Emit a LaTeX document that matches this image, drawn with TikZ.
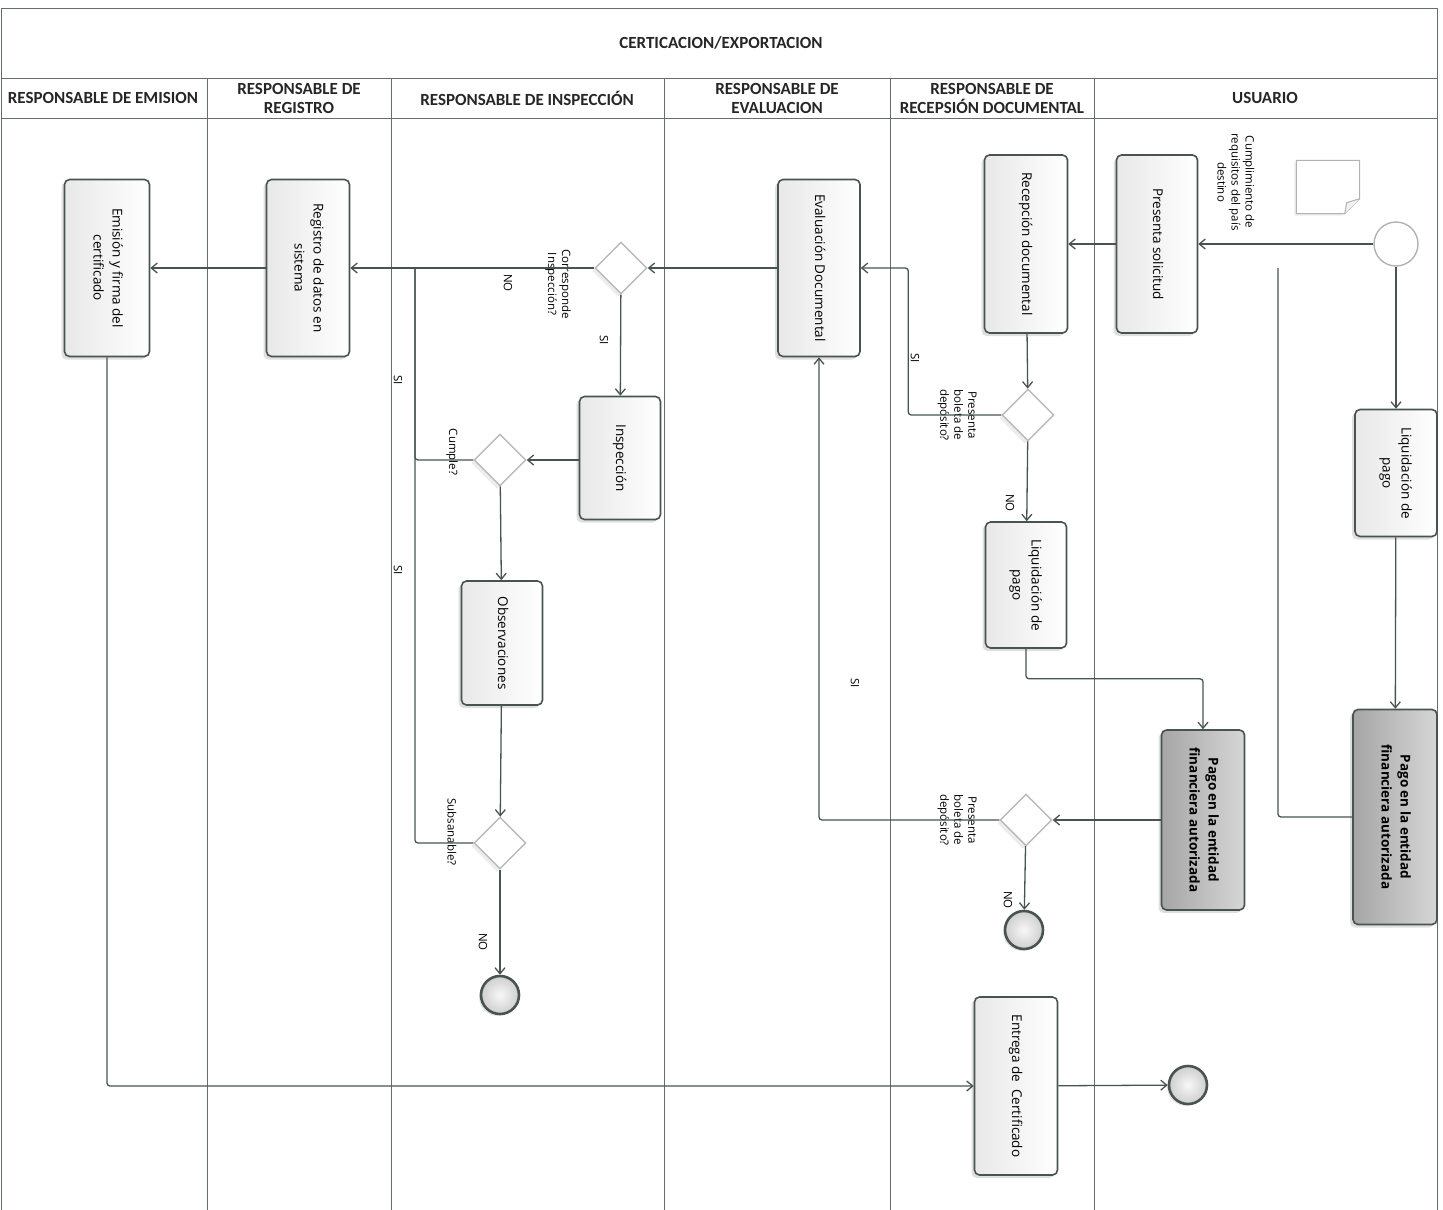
\documentclass[tikz,border=0pt]{standalone}
\usepackage{graphicx}
\usepackage{fontspec}
\setmainfont{Open Sans}
\newfontfamily\hdfont{Carlito}
\usetikzlibrary{shapes.geometric,shadows,arrows.meta,calc,positioning}

\definecolor{lnc}{RGB}{72,84,80}
\definecolor{lanec}{RGB}{100,110,107}

\newcommand{\vtxt}[1]{\rotatebox{-90}{\begin{tabular}{@{}c@{}}#1\end{tabular}}}

\tikzset{
	lane/.style={draw=lanec, line width=0.9pt},
	hd/.style={font=\hdfont\bfseries\fontsize{17}{19}\selectfont, align=center, text=black!85},
	task/.style={draw=lnc, line width=1.6pt, rounded corners=5pt, left color=gray!18, right color=white,
		drop shadow={opacity=0.25, shadow xshift=-3pt, shadow yshift=-3pt},
		inner sep=0pt, font=\fontsize{13.5}{19}\selectfont},
	paytask/.style={task, left color=gray!70, right color=gray!32, font=\fontsize{13.5}{19}\selectfont\bfseries},
	gate/.style={diamond, draw=gray!55, line width=1.4pt, fill=white, minimum width=52pt, minimum height=52pt,
		inner sep=0pt, drop shadow={opacity=0.15, shadow xshift=-3pt, shadow yshift=-3pt}},
	startev/.style={circle, draw=gray!60, line width=1.4pt, fill=white, minimum size=44pt, inner sep=0pt},
	endev/.style={circle, draw=lnc, line width=2.6pt, inner color=gray!6, outer color=gray!38, minimum size=38pt,
		inner sep=0pt, drop shadow={opacity=0.2, shadow xshift=-2pt, shadow yshift=-2pt}},
	flow/.style={draw=lnc, line width=1.3pt, -{Straight Barb[length=6pt,width=10pt]}},
	link/.style={draw=lnc, line width=1.3pt},
	lbl/.style={font=\fontsize{11.5}{14}\selectfont, align=center, rotate=-90, inner sep=1pt},
}

\begin{document}
\begin{tikzpicture}[x=1pt, y=-1pt]

	\useasboundingbox (0,0) rectangle (1443,1210);

	% lanes
	\draw[lane] (1,1210) -- (1,8) -- (1437,8) -- (1437,1210);
	\draw[lane] (1,78) -- (1437,78);
	\draw[lane] (1,118) -- (1437,118);
	\foreach \x in {207,391,664,890,1094}
	{
		\draw[lane] (\x,78) -- (\x,1210);
	};

	\node[hd] (title) at (721,43) {CERTICACION/EXPORTACION};
	\foreach \x/\t [count=\i] in {
	103/{RESPONSABLE DE EMISION},
	299/{RESPONSABLE DE\\REGISTRO},
	527/{RESPONSABLE DE INSPECCIÓN},
	777/{RESPONSABLE DE\\EVALUACION},
	992/{RESPONSABLE DE\\RECEPSIÓN DOCUMENTAL},
	1265/{USUARIO}}
	{
		\node[hd] (h\i) at (\x,98) {\t};
	};

	% tasks
	\node[task, minimum width=85pt, minimum height=177pt] (emi) at (107,268) {\vtxt{Emisión y firma del\\certificado}};
	\node[task, minimum width=83pt, minimum height=177pt] (reg) at (308,268) {\vtxt{Registro de datos en\\sistema}};
	\node[task, minimum width=82pt, minimum height=177pt] (eva) at (819,268) {\vtxt{Evaluación Documental}};
	\node[task, minimum width=83pt, minimum height=178pt] (rec) at (1026,244) {\vtxt{Recepción documental}};
	\node[task, minimum width=81pt, minimum height=178pt] (sol) at (1157,244) {\vtxt{Presenta solicitud}};
	\node[task, minimum width=81pt, minimum height=123pt] (insp) at (620,458) {\vtxt{Inspección}};
	\node[task, minimum width=81pt, minimum height=124pt] (obs) at (502,643) {\vtxt{Observaciones}};
	\node[task, minimum width=81pt, minimum height=126pt] (liq1) at (1026,585) {\vtxt{Liquidación de\\pago}};
	\node[task, minimum width=82pt, minimum height=127pt] (liq2) at (1396,473) {\vtxt{Liquidación de\\pago}};
	\node[paytask, minimum width=83pt, minimum height=180pt] (pag1) at (1203,820) {\vtxt{Pago en la entidad\\financiera autorizada}};
	\node[paytask, minimum width=84pt, minimum height=215pt] (pag2) at (1395,817) {\vtxt{Pago en la entidad\\financiera autorizada}};
	\node[task, minimum width=83pt, minimum height=178pt] (ent) at (1016,1086) {\vtxt{Entrega de \ Certificado}};

	% gateways and events
	\node[gate] (gcor) at (621,268) {};
	\node[gate] (gbo1) at (1028,415) {};
	\node[gate] (gcum) at (500,460) {};
	\node[gate] (gsub) at (500,843) {};
	\node[gate] (gbo2) at (1026,820) {};

	\node[startev] (ini) at (1396,244) {};
	\node[endev] (fin1) at (500,995) {};
	\node[endev] (fin2) at (1024,930) {};
	\node[endev] (fin3) at (1188,1085) {};

	% data object
	\node[minimum width=63pt, minimum height=53pt, inner sep=0pt] (doc) at (1328,187) {};
	\draw[draw=gray!60, line width=1pt, fill=white, drop shadow={opacity=0.15, shadow xshift=-2pt, shadow yshift=-2pt}]
		(doc.north west) -- (doc.north east) -- ($(doc.south east)+(0,-15)$) -- ($(doc.south east)+(-15,0)$) -- (doc.south west) -- cycle;
	\draw[draw=gray!60, line width=1pt, fill=gray!10]
		($(doc.south east)+(0,-15)$) -- ($(doc.south east)+(-13,-11)$) -- ($(doc.south east)+(-15,0)$);

	\coordinate (asoc) at (1278,268);
	\coordinate (join) at (415,268);

	% labels
	\node[lbl] (tdoc) at (1236,182) {Cumplimiento de\\requisitos del país\\destino};
	\node[lbl] (tcor) at (558,284) {Corresponde\\Inspección?};
	\node[lbl] (tcum) at (452,452) {Cumple?};
	\node[lbl] (tsub) at (452,832) {Subsanable?};
	\node[lbl] (tbo1) at (957,415) {Presenta\\boleta de\\depósito?};
	\node[lbl] (tbo2) at (957,820) {Presenta\\boleta de\\depósito?};
	\node[lbl] (no1) at (508,283) {NO};
	\node[lbl] (si1) at (604,340) {SI};
	\node[lbl] (si2) at (398,380) {SI};
	\node[lbl] (si3) at (398,570) {SI};
	\node[lbl] (no2) at (483,942) {NO};
	\node[lbl] (si4) at (915,358) {SI};
	\node[lbl] (no3) at (1010,503) {NO};
	\node[lbl] (si5) at (855,683) {SI};
	\node[lbl] (no4) at (1008,900) {NO};

	% flows
	\draw[flow] (ini) -- (sol);
	\draw[flow] (sol) -- (rec.east |- sol);
	\draw[flow] (rec) -- (gbo1);
	\draw[flow, rounded corners=3pt] (gbo1.west) -- ++(-93,0) |- (eva.east);
	\draw[flow] (gbo1) -- (liq1);
	\draw[flow, rounded corners=3pt] (liq1.south) -- ++(0,30) -| (pag1.north);
	\draw[flow] (pag1.west |- gbo2) -- (gbo2.east);
	\draw[flow, rounded corners=3pt] (gbo2.west) -| (eva.south);
	\draw[flow] (gbo2) -- (fin2);
	\draw[flow] (ini) -- (liq2);
	\draw[flow] (liq2) -- (pag2);
	\draw[link, rounded corners=3pt] (pag2.west) -| (asoc);
	\draw[flow] (eva) -- (gcor);
	\draw[flow] (gcor) -- (reg);
	\draw[flow] (reg) -- (emi);
	\draw[flow] (gcor) -- (insp);
	\draw[flow] (insp.west |- gcum) -- (gcum.east);
	\draw[link, rounded corners=3pt] (gcum.west) -| (join);
	\draw[flow] (gcum) -- (obs);
	\draw[flow] (obs) -- (gsub);
	\draw[link, rounded corners=3pt] (gsub.west) -| (join);
	\draw[flow] (gsub) -- (fin1);
	\draw[flow, rounded corners=3pt] (emi.south) |- (ent.west);
	\draw[flow] (ent) -- (fin3);
	\end{tikzpicture}
\end{document}
